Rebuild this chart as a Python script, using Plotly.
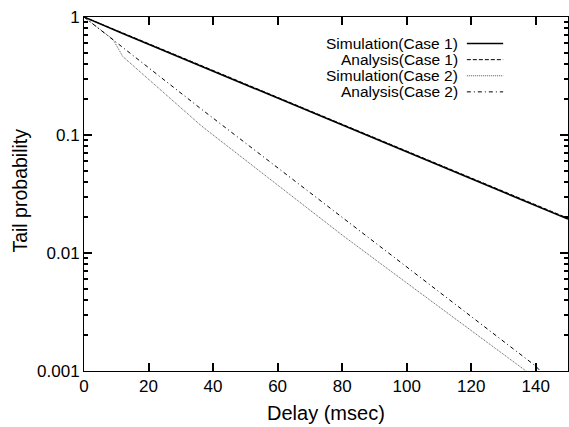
import plotly.graph_objects as go

# ---- data ----
x_sim1 = [0, 5, 10, 12, 20, 30, 40, 60, 80, 100, 120, 140, 150]
y_sim1 = [1.0, 0.871, 0.762, 0.724, 0.587, 0.452, 0.348, 0.206, 0.1216, 0.0719, 0.0426, 0.0252, 0.0194]

x_ana1 = [0, 5, 10, 12, 20, 30, 40, 60, 80, 100, 120, 140, 150]
y_ana1 = [1.0, 0.875, 0.768, 0.730, 0.595, 0.458, 0.352, 0.209, 0.1235, 0.073, 0.0432, 0.0255, 0.0197]

x_sim2 = [0, 3, 6, 9, 12, 16, 20, 24, 30, 36, 40, 60, 80, 100, 120, 137, 140]
y_sim2 = [1.0, 0.861, 0.745, 0.646, 0.463, 0.371, 0.296, 0.238, 0.170, 0.122, 0.100, 0.0378,
          0.0142, 0.00558, 0.00221, 0.0010, 0.00087]

x_ana2 = [0, 3, 6, 9, 12, 20, 36, 40, 60, 80, 100, 120, 140, 142]
y_ana2 = [1.0, 0.861, 0.741, 0.638, 0.551, 0.372, 0.1687, 0.139, 0.0528, 0.0201, 0.00764,
          0.0029, 0.0011, 0.00096]

series_names = ["Simulation(Case 1)", "Analysis(Case 1)", "Simulation(Case 2)", "Analysis(Case 2)"]
x_title = "Delay (msec)"
y_title = "Tail probability"
x_tick_step = 20
y_decade_step = 1

styles = [
    dict(color="black", width=1.6, dash="solid"),
    dict(color="black", width=1.0, dash="4px,2px"),
    dict(color="#555555", width=1.0, dash="1px,1px"),
    dict(color="black", width=1.0, dash="4px,3px,1px,3px"),
]

FONT = "Liberation Sans"

fig = go.Figure()
for xs, ys, name, st in zip([x_sim1, x_ana1, x_sim2, x_ana2],
                            [y_sim1, y_ana1, y_sim2, y_ana2],
                            series_names, styles):
    fig.add_trace(go.Scatter(x=xs, y=ys, mode="lines", name=name, line=st,
                             showlegend=False))

# gnuplot-style legend: right-aligned text with sample line on its right
legend_top = 0.925
legend_step = 0.0455
for i, (name, st) in enumerate(zip(series_names, styles)):
    yy = legend_top - i * legend_step
    fig.add_annotation(x=0.776, y=yy, xref="paper", yref="paper", text=name,
                       showarrow=False, xanchor="right", yanchor="middle",
                       font=dict(family=FONT, size=15.5, color="#000000"))
    fig.add_shape(type="line", xref="paper", yref="paper",
                  x0=0.791, x1=0.866, y0=yy, y1=yy, line=st)

# axis titles as annotations
fig.add_annotation(x=0.5, y=-0.12, xref="paper", yref="paper", text=x_title,
                   showarrow=False, xanchor="center", yanchor="middle",
                   font=dict(family=FONT, size=20, color="#000000"))
fig.add_annotation(x=-0.132, y=0.51, xref="paper", yref="paper", text=y_title,
                   showarrow=False, xanchor="center", yanchor="middle", textangle=-90,
                   font=dict(family=FONT, size=19.5, color="#000000"))

fig.update_layout(
    width=569, height=427,
    margin=dict(l=84, r=1, t=17, b=56),
    plot_bgcolor="white",
)
fig.update_xaxes(
    range=[0, 150], dtick=x_tick_step,
    ticks="inside", ticklen=8, tickwidth=1.5, tickcolor="#000000",
    tickfont=dict(family=FONT, size=17, color="#000000"),
    showline=True, linecolor="#000000", mirror="ticks",
    gridcolor="rgba(0,0,0,0)", zerolinecolor="#000000",
)
fig.update_yaxes(
    type="log", range=[-3, 0], dtick=y_decade_step,
    ticks="inside", ticklen=8, tickwidth=1.5, tickcolor="#000000",
    tickfont=dict(family=FONT, size=17, color="#000000"),
    minor=dict(ticks="inside", ticklen=4, tickcolor="#000000", dtick="D1"),
    showline=True, linecolor="#000000", mirror="ticks",
    gridcolor="rgba(0,0,0,0)",
)

fig.write_html("out.html", post_script="document.body.style.margin='0';",
               config={"displayModeBar": False})
